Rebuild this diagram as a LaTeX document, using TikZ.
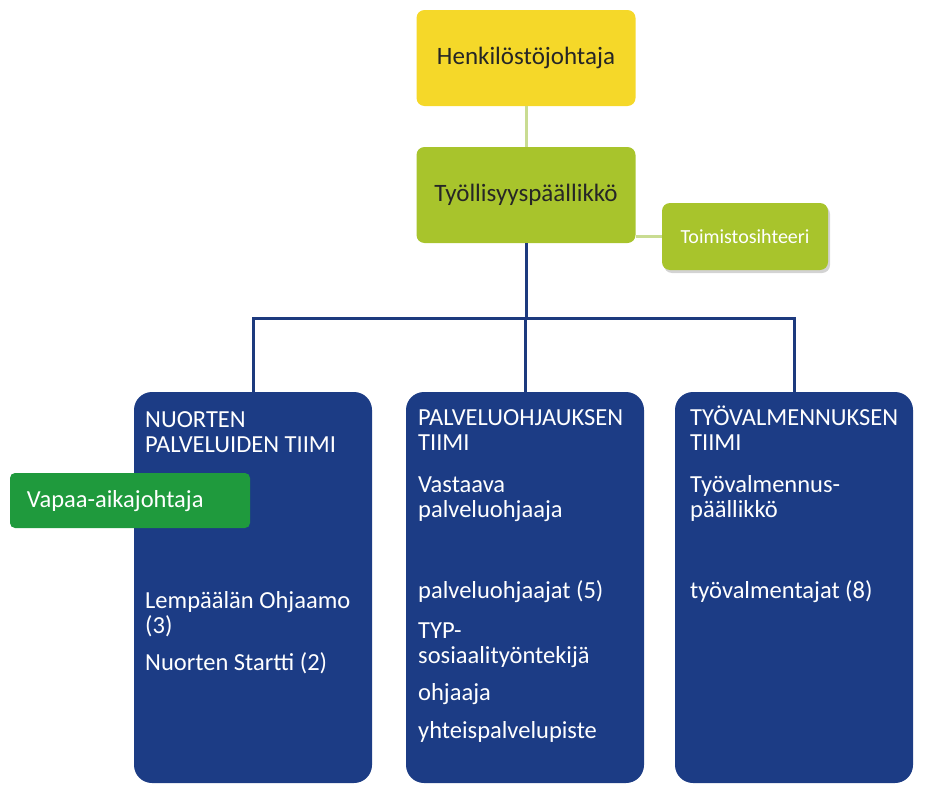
\documentclass[tikz,border=0pt]{standalone}
\usepackage{fontspec}
\setmainfont{Carlito}
\usetikzlibrary{shadows}

\definecolor{headyellow}{HTML}{F5D829}
\definecolor{leafgreen}{HTML}{A8C42C}
\definecolor{darkgreen}{HTML}{1F9A3D}
\definecolor{teamblue}{HTML}{1C3C85}
\definecolor{lineblue}{HTML}{1D3A7E}
\definecolor{paleline}{HTML}{C9DC92}

\begin{document}
\begin{tikzpicture}[x=1pt,y=-1pt,
                    font=\fontsize{24.5}{25}\selectfont]
    \tikzstyle{chief}=[rectangle,rounded corners=8pt,minimum width=219pt,
                       minimum height=96pt,inner sep=0pt,text=black!85,
                       font=\fontsize{25}{30}\selectfont]
    \tikzstyle{team}=[rectangle,rounded corners=18pt,fill=teamblue,
                      minimum width=238pt,minimum height=391pt,inner sep=0pt]
    \tikzstyle{teamtext}=[anchor=base west,align=left,inner sep=0pt,text=white]
    \tikzstyle{pale}=[draw=paleline,line width=3pt]
    \tikzstyle{blueline}=[draw=lineblue,line width=3pt]

    \useasboundingbox (0,0) rectangle (938,787);

    % top of the chart
    \node[chief,fill=headyellow] (henk)  at (526,58)  {Henkilöstöjohtaja};
    \node[chief,fill=leafgreen]  (tyol)  at (526,195) {Työllisyyspäällikkö};
    \node[rectangle,rounded corners=8pt,fill=leafgreen,text=white,
          minimum width=166pt,minimum height=67pt,inner sep=0pt,
          font=\fontsize{20}{22}\selectfont,
          drop shadow={opacity=0.35,shadow xshift=2pt,shadow yshift=-3pt}]
                                 (sihteeri) at (745,236.5) {Toimistosihteeri};

    % teams
    \node[team] (nuoret)  at (253,587.5) {};
    \node[team] (palv)    at (525,587.5) {};
    \node[team] (tyovalm) at (794,587.5) {};

    \node[rectangle,rounded corners=5pt,fill=darkgreen,text=white,
          minimum height=55pt,text width=206pt,inner xsep=17pt,inner ysep=0pt,
          align=left]      (vapaa) at (130,500.5) {Vapaa-aikajohtaja\vphantom{(}};

    % connectors
    \coordinate (split) at (526,318);
    \path[pale] (henk) -- (tyol);
    \path[pale] (sihteeri.west) -- (sihteeri.west -| tyol.east);
    \path[blueline] (tyol.south) -- (split);
    \path[blueline] (nuoret.north) |- (split) -| (tyovalm.north);
    \path[blueline] (split -| palv.north) -- (palv.north);

    % team texts (anchor is the baseline of the last line)
    \node[teamtext] (nu1) at (145,452) {NUORTEN\\PALVELUIDEN TIIMI};
    \node[teamtext] (nu2) at (145,633) {Lempäälän Ohjaamo\\(3)};
    \node[teamtext] (nu3) at (145,670) {Nuorten Startti (2)};

    \node[teamtext] (pa1) at (418,450) {PALVELUOHJAUKSEN\\TIIMI};
    \node[teamtext] (pa2) at (418,517) {Vastaava\\palveluohjaaja};
    \node[teamtext] (pa3) at (418,598) {palveluohjaajat (5)};
    \node[teamtext] (pa4) at (418,663) {TYP-\\sosiaalityöntekijä};
    \node[teamtext] (pa5) at (418,700) {ohjaaja};
    \node[teamtext] (pa6) at (418,738) {yhteispalvelupiste};

    \node[teamtext] (ty1) at (690,450) {TYÖVALMENNUKSEN\\TIIMI};
    \node[teamtext] (ty2) at (690,517) {Työvalmennus-\\päällikkö};
    \node[teamtext] (ty3) at (690,598) {työvalmentajat (8)};
\end{tikzpicture}
\end{document}
